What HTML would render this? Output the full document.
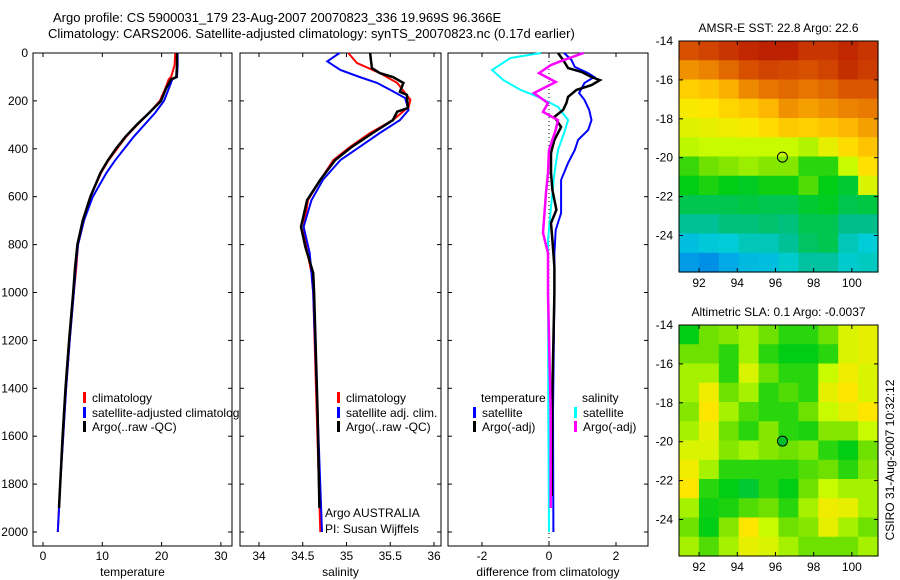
<!DOCTYPE html>
<html><head><meta charset="utf-8"><style>
html,body{margin:0;padding:0;background:#fff;}
svg{display:block;font-family:"Liberation Sans",sans-serif;}
text{font-size:12px;fill:#000;}
</style></head><body>
<svg id="chart" width="900" height="580" viewBox="0 0 900 580">
<text x="53" y="22" style="font-size:13px">Argo profile: CS 5900031_179 23-Aug-2007 20070823_336 19.969S 96.366E</text>
<text x="48" y="38" style="font-size:13px">Climatology: CARS2006. Satellite-adjusted climatology: synTS_20070823.nc (0.17d earlier)</text>
<g id="p1"></g>
<g id="p2"></g>
<g id="p3"></g>
<g id="m1"></g>
<g id="m2"></g>
<text transform="translate(894,460) rotate(-90)" text-anchor="middle">CSIRO 31-Aug-2007 10:32:12</text>
</svg>
<script>
// ---- profile data ----
const tDepth=[0,50,100,110,150,200,250,300,350,400,450,500,600,700,800,900,1000,1200,1400,1600,1800,2000];
const tClim=[22.3,22.2,21.6,21.2,20.6,19.7,17.9,15.9,14.0,12.5,11.0,9.8,8.0,6.9,5.9,5.6,5.2,4.5,3.9,3.4,2.9,2.5];
const tSat=[22.7,22.7,22.6,21.8,21.2,20.4,18.9,17.1,15.3,13.7,12.1,10.7,8.4,6.9,5.9,5.5,5.2,4.5,3.9,3.4,2.9,2.5];
const tArgoDepth=[0,50,100,110,150,200,250,300,350,400,450,500,600,700,800,900,1000,1200,1400,1600,1800,1900];
const tArgo=[22.6,22.6,22.5,21.6,20.7,19.9,17.9,15.8,13.9,12.3,10.9,9.7,8.0,6.7,5.8,5.4,5.1,4.4,3.8,3.3,2.9,2.7];

const sClimDepth=[0,42,84,125,196,225,280,334,392,447,530,614,726,810,918,1000,1500,2000];
const sClim=[35.02,35.12,35.38,35.58,35.73,35.71,35.53,35.27,35.04,34.85,34.70,34.56,34.51,34.54,34.60,34.62,34.66,34.70];
const sSatDepth=[0,20,35,71,100,125,154,188,238,280,334,392,447,530,614,726,835,918,1000,1500,2000];
const sSat=[34.92,34.84,34.78,34.93,35.15,35.35,35.50,35.67,35.71,35.61,35.38,35.15,34.93,34.73,34.60,34.51,34.58,34.60,34.62,34.67,34.72];
const sArgoDepth=[0,63,84,100,125,162,175,230,245,280,334,392,447,530,614,726,810,918,1000,1500,1900];
const sArgo=[35.27,35.29,35.38,35.53,35.65,35.61,35.69,35.70,35.58,35.53,35.30,35.06,34.87,34.70,34.55,34.48,34.53,34.62,34.63,34.67,34.69];

const dTSatDepth=[0,29,58,84,100,125,167,196,238,280,321,363,405,459,530,601,668,739,835,1002,1500,2000];
const dTSat=[0.45,0.67,0.77,1.17,1.35,1.06,0.9,1.06,1.2,1.27,1.17,0.87,0.77,0.57,0.36,0.36,0.36,0.2,0.16,0.16,0.12,0.13];
const dTArgoDepth=[0,29,63,79,100,113,134,154,183,209,238,267,309,363,417,501,572,655,710,781,893,1002,1400,1850];
const dTArgo=[0.27,0.42,0.57,0.97,1.27,1.52,1.27,0.82,0.57,0.52,0.42,0.16,0.36,0.16,0.06,0.06,0.1,0.22,0.06,0.1,0.16,0.16,0.1,0.08];
const dSSatDepth=[0,21,71,113,154,183,225,280,334,405,501,643,781,918,1500,2000];
const dSSat=[-0.24,-1.15,-1.7,-1.36,-0.85,-0.33,0.27,0.57,0.45,0.27,0.16,0.06,-0.03,-0.03,-0.02,0.0];
const dSArgoDepth=[0,29,50,84,121,167,209,246,280,321,405,501,584,697,751,835,1002,1500,1900];
const dSArgo=[1.03,0.45,0.06,-0.3,0.2,-0.45,-0.03,-0.18,0.27,0.2,0.0,-0.03,-0.09,-0.15,-0.18,-0.03,-0.03,0.05,0.05];

const tTicks=[0,10,20,30], sTicks=[34,34.5,35,35.5,36], dTicks=[-2,0,2];
const depthTicks=[0,200,400,600,800,1000,1200,1400,1600,1800,2000];

// ---- map data (0=blue ... 1=dark red) ----
const lonTicks=[92,94,96,98,100], latTicks=[-14,-16,-18,-20,-22,-24];
const argoLon=96.366, argoLat=-19.969;
const sstGrid=[
[.88,.90,.92,.94,.95,.95,.92,.92,.94,.92],
[.78,.80,.84,.88,.90,.89,.88,.90,.93,.91],
[.69,.71,.74,.79,.82,.84,.82,.84,.87,.87],
[.64,.65,.68,.70,.73,.78,.76,.78,.80,.81],
[.61,.62,.63,.64,.67,.70,.69,.71,.73,.76],
[.57,.58,.58,.58,.58,.58,.56,.62,.67,.71],
[.46,.50,.52,.54,.52,.52,.45,.45,.58,.66],
[.42,.44,.42,.41,.43,.43,.48,.42,.40,.60],
[.38,.38,.38,.39,.38,.38,.40,.41,.38,.39],
[.33,.33,.35,.35,.36,.35,.38,.38,.34,.34],
[.24,.26,.27,.30,.30,.33,.37,.38,.30,.27],
[.17,.15,.20,.23,.24,.28,.32,.32,.28,.29]];
const slaGrid=[
[.42,.50,.52,.55,.50,.45,.45,.50,.60,.62],
[.50,.50,.45,.55,.45,.42,.42,.45,.60,.62],
[.55,.55,.45,.60,.50,.45,.45,.58,.63,.60],
[.55,.63,.50,.55,.45,.48,.45,.62,.65,.60],
[.52,.65,.55,.48,.45,.45,.50,.58,.62,.65],
[.55,.62,.50,.45,.52,.45,.44,.52,.52,.58],
[.60,.60,.52,.55,.52,.50,.52,.45,.42,.50],
[.63,.55,.45,.45,.45,.45,.48,.50,.45,.52],
[.65,.45,.42,.40,.45,.42,.50,.58,.55,.55],
[.55,.43,.44,.48,.50,.45,.55,.63,.62,.55],
[.50,.42,.52,.65,.58,.50,.52,.62,.55,.50],
[.55,.48,.55,.62,.60,.55,.50,.50,.50,.55]];

const NS='http://www.w3.org/2000/svg';
function mk(parent,tag,attrs){const e=document.createElementNS(NS,tag);for(const k in attrs)e.setAttribute(k,attrs[k]);parent.appendChild(e);return e;}

const yTop=53, yPer=(532-53)/2000;
const yD=d=>yTop+d*yPer;
const PB=546;

function panel(g,left,right,xf,ticks,label,fmt){
  const bg=mk(g,'rect',{x:left,y:yTop,width:right-left,height:PB-yTop,fill:'#fff',stroke:'#000','stroke-width':1});
  
  
  ticks.forEach(t=>{
    const x=xf(t);
    mk(g,'line',{x1:x,y1:PB,x2:x,y2:PB-4,stroke:'#000'});
    mk(g,'line',{x1:x,y1:yTop,x2:x,y2:yTop+4,stroke:'#000'});
    const tx=mk(g,'text',{x:x,y:PB+14,'text-anchor':'middle'});tx.textContent=fmt(t);
    
    
  });
  depthTicks.forEach(d=>{
    const y=yD(d);
    mk(g,'line',{x1:left,y1:y,x2:left+4,y2:y,stroke:'#000'});
    mk(g,'line',{x1:right,y1:y,x2:right-4,y2:y,stroke:'#000'});
  });
  const xl=mk(g,'text',{x:(left+right)/2,y:PB+30,'text-anchor':'middle'});xl.textContent=label;
  
  
}
function line(g,xf,depths,vals,color,w,name){
  const pts=depths.map((d,i)=>xf(vals[i]).toFixed(1)+','+yD(d).toFixed(1)).join(' ');
  const p=mk(g,'polyline',{points:pts,fill:'none',stroke:color,'stroke-width':w,'stroke-linejoin':'miter'});
  
  
}
function legend(g,x,y,color,label){
  mk(g,'rect',{x:x,y:y-5,width:3,height:11,fill:color});
  const t=mk(g,'text',{x:x+9,y:y+5});t.textContent=label;
  
  
}
function txt(g,x,y,s,name,anchor){const t=mk(g,'text',{x:x,y:y,'text-anchor':anchor||'start'});t.textContent=s;
  
  return t;}

// panel 1
const g1=document.getElementById('p1');
const xT=t=>43+t*5.93;
panel(g1,33,232,xT,tTicks,'temperature',v=>String(v));
depthTicks.forEach(d=>{txt(g1,28,yD(d)+4,String(d),'y-tick-label','end');});
line(g1,xT,tDepth,tClim,'#f00',2,'temperature-climatology');
line(g1,xT,tDepth,tSat,'#00f',2,'temperature-satellite-adjusted');
line(g1,xT,tArgoDepth,tArgo,'#000',2.5,'temperature-argo');
legend(g1,83,397,'#f00','climatology');
legend(g1,83,412,'#00f','satellite-adjusted climatology');
legend(g1,83,426,'#000','Argo(..raw -QC)');

// panel 2
const g2=document.getElementById('p2');
const xS=s=>259+(s-34)*87.5;
panel(g2,240,441,xS,sTicks,'salinity',v=>String(v));
line(g2,xS,sClimDepth,sClim,'#f00',2,'salinity-climatology');
line(g2,xS,sSatDepth,sSat,'#00f',2,'salinity-satellite-adjusted');
line(g2,xS,sArgoDepth,sArgo,'#000',2.5,'salinity-argo');
legend(g2,337,397,'#f00','climatology');
legend(g2,337,412,'#00f','satellite adj. clim.');
legend(g2,337,426,'#000','Argo(..raw -QC)');
txt(g2,325,517,'Argo AUSTRALIA','argo-country-label');
txt(g2,325,533,'PI: Susan Wijffels','pi-label');

// panel 3
const g3=document.getElementById('p3');
const xDf=v=>549+v*33.5;
panel(g3,448,648,xDf,dTicks,'difference from climatology',v=>String(v));
mk(g3,'line',{x1:xDf(0),y1:yTop,x2:xDf(0),y2:PB,stroke:'#000','stroke-dasharray':'1,3'});
line(g3,xDf,dSSatDepth,dSSat,'#0ff',2,'salinity-diff-satellite');
line(g3,xDf,dTSatDepth,dTSat,'#00f',2,'temperature-diff-satellite');
line(g3,xDf,dTArgoDepth,dTArgo,'#000',2.5,'temperature-diff-argo');
line(g3,xDf,dSArgoDepth,dSArgo,'#f0f',2.5,'salinity-diff-argo');
txt(g3,481,402,'temperature','legend-heading-temperature');
legend(g3,473,412,'#00f','satellite');
legend(g3,473,426,'#000','Argo(-adj)');
txt(g3,582,402,'salinity','legend-heading-salinity');
legend(g3,574,412,'#0ff','satellite');
legend(g3,574,426,'#f0f','Argo(-adj)');

// colormap
const stops=[[0,[0,60,230]],[0.2,[0,170,230]],[0.27,[0,205,215]],[0.34,[0,190,140]],[0.42,[0,205,20]],[0.5,[110,225,0]],[0.58,[200,250,0]],[0.65,[255,230,0]],[0.72,[255,190,0]],[0.8,[235,130,0]],[0.88,[215,80,0]],[1,[170,0,0]]];
function cmap(v){for(let i=1;i<stops.length;i++){if(v<=stops[i][0]){const a=stops[i-1],b=stops[i],f=(v-a[0])/(b[0]-a[0]);
 return 'rgb('+a[1].map((c,k)=>Math.round(c+(b[1][k]-c)*f)).join(',')+')';}}return 'rgb(170,0,0)';}

function map(g,top,grid,title,filled){
  const L=679,R=878,H=231,B=top+H;
  const lonX=lo=>L+(lo-90.95)*19.1;
  const latY=la=>top+(-14-la)*19.45;
  const rows=grid.length, cols=grid[0].length, cw=(R-L)/cols, ch=H/rows;
  grid.forEach((row,r)=>row.forEach((v,c)=>{
    const cell=mk(g,'rect',{x:(L+c*cw).toFixed(2),y:(top+r*ch).toFixed(2),width:(cw+0.6).toFixed(2),height:(ch+0.6).toFixed(2),fill:cmap(v)});
    
    
  }));
  mk(g,'rect',{x:L,y:top,width:R-L,height:H,fill:'none',stroke:'#000'});
  lonTicks.forEach(lo=>{const x=lonX(lo);
    mk(g,'line',{x1:x,y1:B,x2:x,y2:B-4,stroke:'#000'});mk(g,'line',{x1:x,y1:top,x2:x,y2:top+4,stroke:'#000'});
    txt(g,x,B+15,String(lo),'map-x-tick-label','middle');});
  latTicks.forEach(la=>{const y=latY(la);
    mk(g,'line',{x1:L,y1:y,x2:L+4,y2:y,stroke:'#000'});mk(g,'line',{x1:R,y1:y,x2:R-4,y2:y,stroke:'#000'});
    txt(g,673,y+4,String(la),'map-y-tick-label','end');});
  const c=mk(g,'circle',{cx:lonX(argoLon),cy:latY(argoLat),r:5,fill:filled?'rgb(0,190,40)':'none',stroke:'#000','stroke-width':1});
  
  
  txt(g,(L+R)/2,top-9,title,'map-title','middle');
}
map(document.getElementById('m1'),41,sstGrid,'AMSR-E SST: 22.8 Argo: 22.6',false);
map(document.getElementById('m2'),325,slaGrid,'Altimetric SLA: 0.1 Argo: -0.0037',true);
</script>
</body></html>
